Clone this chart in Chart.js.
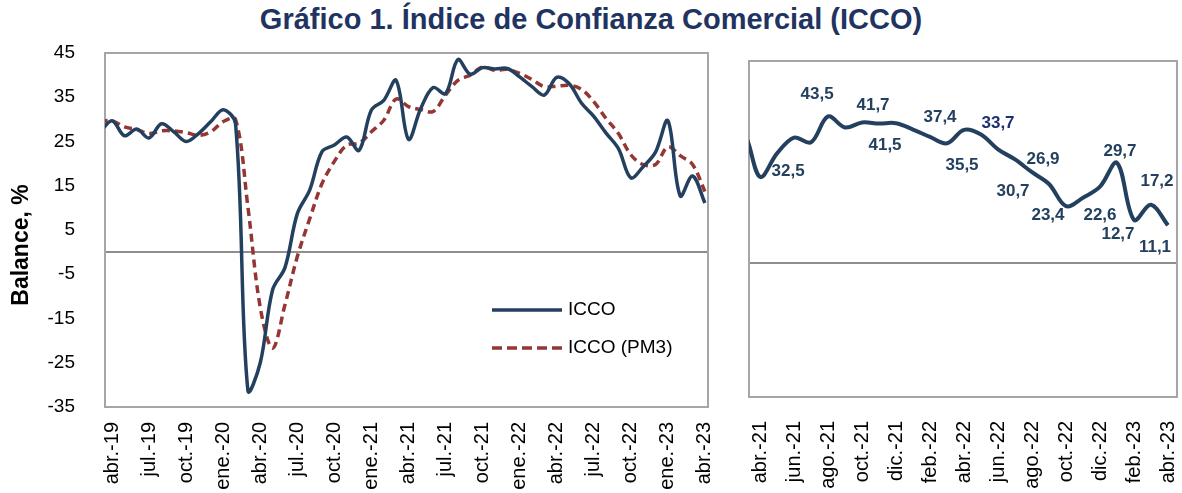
<!DOCTYPE html>
<html lang="es">
<head>
<meta charset="utf-8">
<title>Índice de Confianza Comercial (ICCO)</title>
<script src="https://cdn.jsdelivr.net/npm/chart.js@4.4.1/dist/chart.umd.min.js"></script>
<style>
  html, body { margin: 0; padding: 0; background: #fff; }
  body { width: 1182px; height: 493px; position: relative; overflow: hidden; font-family: "Liberation Sans", Arial, sans-serif; }
  #titulo { position: absolute; left: 0; top: 3px; width: 1182px; text-align: center; font-weight: bold; font-size: 29px; color: #1f3461; }
  .caja { position: absolute; top: 40px; height: 453px; }
  #cajaIzq { left: 0; width: 720px; }
  #cajaDer { left: 720px; width: 462px; }
</style>
</head>
<body>
<div id="titulo">Gráfico 1. Índice de Confianza Comercial (ICCO)</div>
<div class="caja" id="cajaIzq"><canvas id="graficoIzq" width="720" height="453"></canvas></div>
<div class="caja" id="cajaDer"><canvas id="graficoDer" width="462" height="453"></canvas></div>
<script>
// meses (mar.-19 queda fuera del eje, solo para que la curva entre desde el borde)
const meses = [
    'mar.-19', 'abr.-19', 'may.-19', 'jun.-19', 'jul.-19', 'ago.-19', 'sep.-19', 'oct.-19', 'nov.-19', 'dic.-19',
    'ene.-20', 'feb.-20', 'mar.-20', 'abr.-20', 'may.-20', 'jun.-20', 'jul.-20', 'ago.-20', 'sep.-20', 'oct.-20', 'nov.-20', 'dic.-20',
    'ene.-21', 'feb.-21', 'mar.-21', 'abr.-21', 'may.-21', 'jun.-21', 'jul.-21', 'ago.-21', 'sep.-21', 'oct.-21', 'nov.-21', 'dic.-21',
    'ene.-22', 'feb.-22', 'mar.-22', 'abr.-22', 'may.-22', 'jun.-22', 'jul.-22', 'ago.-22', 'sep.-22', 'oct.-22', 'nov.-22', 'dic.-22',
    'ene.-23', 'feb.-23', 'mar.-23', 'abr.-23'
];
const icco = [
    27.0, 29.7, 26.3, 27.8, 25.8, 29.0, 27.2, 25.0, 26.8, 29.5,
    32.2, 29.0, -31.3, -25.0, -8.5, -3.5, 8.7, 14.0, 22.7, 24.2, 26.0, 23.0,
    32.1, 34.3, 38.8, 25.5, 32.5, 37.2, 35.8, 43.5, 40.2, 41.7, 41.4, 41.5,
    39.6, 37.4, 35.5, 39.5, 38.1, 33.7, 30.7, 26.9, 23.4, 16.8, 19.3, 22.6,
    29.7, 12.7, 17.2, 11.1
];
const iccoPM3 = [
    29.5, 29.7, 28.3, 27.7, 26.8, 27.4, 27.4, 27.0, 26.4, 27.2,
    29.5, 30.0, 10.2, -12.5, -21.7, -11.9, -1.0, 7.5, 15.5, 20.5, 24.2, 24.6,
    27.2, 29.8, 34.6, 32.9, 32.2, 31.8, 35.5, 38.8, 40.0, 41.8, 41.1, 41.3,
    40.4, 39.0, 37.4, 37.5, 37.7, 36.8, 34.0, 30.2, 26.8, 22.0, 19.8, 19.8,
    23.8, 21.8, 19.8, 13.7
];
const ticksIzq = ['abr.-19', 'jul.-19', 'oct.-19', 'ene.-20', 'abr.-20', 'jul.-20', 'oct.-20', 'ene.-21', 'abr.-21',
    'jul.-21', 'oct.-21', 'ene.-22', 'abr.-22', 'jul.-22', 'oct.-22', 'ene.-23', 'abr.-23'];
const ticksDer = ['abr.-21', 'jun.-21', 'ago.-21', 'oct.-21', 'dic.-21', 'feb.-22', 'abr.-22', 'jun.-22',
    'ago.-22', 'oct.-22', 'dic.-22', 'feb.-23', 'abr.-23'];
const ticksY = [45, 35, 25, 15, 5, -5, -15, -25, -35];
const mesesEtiquetados = ['may.-21', 'ago.-21', 'oct.-21', 'dic.-21', 'feb.-22', 'mar.-22', 'jun.-22',
    'jul.-22', 'ago.-22', 'sep.-22', 'dic.-22', 'ene.-23', 'feb.-23', 'mar.-23', 'abr.-23'];

// desplazamiento (px) de cada etiqueta respecto a su punto
const desplazamientos = [[11, 18], [-11, -22], [11, -17], [-11, 22], [10, -20], [15, 22], [0, -26],
    [-2, 32], [11, -13], [-1, 31], [0, 29], [3, -11], [-16, 14], [6, -23], [-13, 22]];

const AZUL = '#24405f';
const ROJO = '#963634';
const FUENTE = '"Liberation Sans", Arial, sans-serif';
Chart.defaults.font.family = FUENTE;

const puntos = serie => meses.map((m, i) => ({x: i, y: serie[i]}));

// sin relleno automático: el área la fija layout.padding
function sinPadding(s) {
    s.paddingLeft = 0; s.paddingRight = 0; s.paddingTop = 0; s.paddingBottom = 0;
}

// marco gris del área y línea del cero
const marco = {
    id: 'marco',
    beforeDatasetsDraw(chart) {
        const {ctx, chartArea: a} = chart;
        const y0 = Math.round(chart.scales.y.getPixelForValue(0));
        ctx.save();
        ctx.lineWidth = 2;
        ctx.strokeStyle = '#8e8e8e';
        ctx.beginPath();
        ctx.moveTo(a.left, y0);
        ctx.lineTo(a.right, y0);
        ctx.stroke();
        ctx.strokeStyle = '#a6a6a6';
        ctx.strokeRect(a.left, a.top, a.right - a.left, a.bottom - a.top);
        ctx.restore();
    }
};

const leyendaIzq = {
    id: 'leyendaIzq',
    afterDraw(chart) {
        const ctx = chart.ctx;
        ctx.save();
        ctx.lineWidth = 3.5;
        ctx.strokeStyle = AZUL;
        ctx.beginPath(); ctx.moveTo(492, 270); ctx.lineTo(562, 270); ctx.stroke();
        ctx.strokeStyle = ROJO;
        ctx.setLineDash([10, 5]);
        ctx.beginPath(); ctx.moveTo(492, 308); ctx.lineTo(562, 308); ctx.stroke();
        ctx.setLineDash([]);
        ctx.fillStyle = '#000';
        ctx.font = '19px ' + FUENTE;
        ctx.textBaseline = 'middle';
        ctx.fillText('ICCO', 568, 270);
        ctx.fillText('ICCO (PM3)', 568, 308);
        // título del eje Y
        ctx.translate(22, 205);
        ctx.rotate(-Math.PI / 2);
        ctx.textAlign = 'center';
        ctx.font = 'bold 23px ' + FUENTE;
        ctx.fillText('Balance, %', 0, 0);
        ctx.restore();
    }
};

const etiquetasDer = {
    id: 'etiquetasDer',
    afterDatasetsDraw(chart) {
        const {ctx, scales: {x, y}} = chart;
        ctx.save();
        ctx.font = 'bold 17px ' + FUENTE;
        ctx.textAlign = 'center';
        ctx.textBaseline = 'middle';
        mesesEtiquetados.forEach((m, k) => {
            const i = meses.indexOf(m);
            const px = x.getPixelForValue(i) + desplazamientos[k][0];
            const py = y.getPixelForValue(icco[i]) + desplazamientos[k][1];
            ctx.fillStyle = m === 'jun.-22' ? '#1f3070' : AZUL;
            ctx.fillText(icco[i].toFixed(1).replace('.', ','), px, py);
        });
        ctx.restore();
    }
};

function ejeX(lista, min, max, alto, separacion) {
    return {
        type: 'linear', min: min, max: max,
        grid: {display: false}, border: {display: false},
        afterBuildTicks: s => { s.ticks = lista.map(t => ({value: meses.indexOf(t)})); },
        afterFit: s => { s.height = alto; sinPadding(s); },
        ticks: {
            autoSkip: false, minRotation: 90, maxRotation: 90, padding: separacion,
            color: '#000', font: {size: 20},
            callback: v => meses[v]
        }
    };
}

new Chart(document.getElementById('graficoIzq'), {
    type: 'line',
    data: {
        datasets: [
            {label: 'ICCO', data: puntos(icco), borderColor: AZUL, borderWidth: 3.5,
             pointRadius: 0, tension: 0.35, clip: {left: 0, right: 0, top: 5, bottom: 5}},
            {label: 'ICCO (PM3)', data: puntos(iccoPM3), borderColor: ROJO, borderWidth: 3.5, borderDash: [8, 5],
             pointRadius: 0, tension: 0.35, clip: {left: 0, right: 0, top: 5, bottom: 5}}
        ]
    },
    options: {
        responsive: false, animation: false,
        layout: {padding: {top: 13, right: 12, left: 0, bottom: 0}},
        plugins: {legend: {display: false}, tooltip: {enabled: false}},
        scales: {
            x: ejeX(ticksIzq, 0.43, 49.25, 86, 7),
            y: {
                min: -35, max: 45,
                afterBuildTicks: s => { s.ticks = ticksY.map(v => ({value: v})); },
                afterFit: s => { s.width = 105; sinPadding(s); },
                grid: {display: false}, border: {display: false},
                ticks: {padding: 22, color: '#000', font: {size: 19}}
            }
        }
    },
    plugins: [marco, leyendaIzq]
});

new Chart(document.getElementById('graficoDer'), {
    type: 'line',
    data: {
        datasets: [
            {label: 'ICCO', data: puntos(icco), borderColor: AZUL, borderWidth: 4,
             pointRadius: 0, tension: 0.35, clip: {left: 0, right: 0, top: 5, bottom: 5}}
        ]
    },
    options: {
        responsive: false, animation: false,
        layout: {padding: {top: 21, right: 5, left: 29, bottom: 0}},
        plugins: {legend: {display: false}, tooltip: {enabled: false}},
        scales: {
            x: ejeX(ticksDer, 24.35, 49.53, 96, 16),
            y: {display: false, min: -40, max: 60}
        }
    },
    plugins: [marco, etiquetasDer]
});
</script>
</body>
</html>
